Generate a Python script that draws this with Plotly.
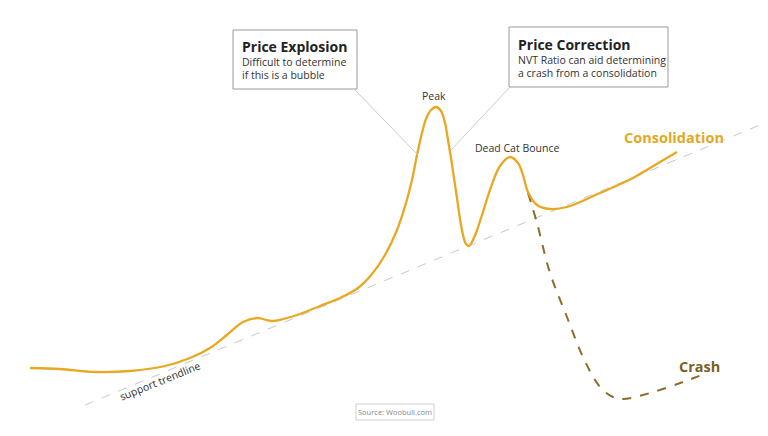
import plotly.graph_objects as go

# Conceptual price path (canvas units: x to the right, y downward)
main_x = [30, 60, 95, 130, 165, 190, 210, 228, 243, 257, 272, 287, 300, 320, 340, 358, 372, 385, 397, 406, 412, 417, 422, 426, 431, 436, 441, 445, 448, 451, 454, 457, 460, 463, 466, 469, 472, 476, 482, 490, 500, 510, 518, 523, 528, 537, 550, 567, 600, 633, 660, 677]
main_y = [368, 369, 372, 371, 366, 358, 348, 334, 322, 318, 321, 318, 314, 306, 298, 288, 274, 255, 230, 203, 180, 155, 133, 119, 110, 107, 111, 123, 140, 158, 178, 198, 219, 235, 244, 246, 242, 233, 215, 190, 166, 157, 163, 175, 192, 205, 209, 207, 193, 178, 162, 152]

crash_x = [528, 537, 550, 567, 583, 600, 613, 623, 650, 683, 707]
crash_y = [193, 223, 273, 317, 357, 387, 397, 399, 393, 382, 373]

trend_x = [85, 760]
trend_y = [405, 125]

fig = go.Figure()
fig.add_trace(go.Scatter(x=trend_x, y=trend_y, mode="lines",
                         line=dict(color="#c8c8c8", width=1, dash="dash"), hoverinfo="skip"))
fig.add_trace(go.Scatter(x=crash_x, y=crash_y, mode="lines",
                         line=dict(color="#8c6c2c", width=2, dash="dash", shape="spline", smoothing=1.0),
                         hoverinfo="skip"))
fig.add_trace(go.Scatter(x=main_x, y=main_y, mode="lines",
                         line=dict(color="#e8a822", width=2.3, shape="spline", smoothing=1.0),
                         hoverinfo="skip"))

shapes = [
    dict(type="line", x0=355, y0=90, x1=418, y1=155, line=dict(color="#cccccc", width=1)),
    dict(type="line", x0=510, y0=87, x1=451, y1=150, line=dict(color="#cccccc", width=1)),
    dict(type="rect", x0=233, y0=30, x1=357, y1=89, line=dict(color="#9a9a9a", width=1), fillcolor="white"),
    dict(type="rect", x0=509, y0=27, x1=668, y1=87, line=dict(color="#9a9a9a", width=1), fillcolor="white"),
    dict(type="rect", x0=356, y0=404, x1=434, y1=420, line=dict(color="#d0d0d0", width=1), fillcolor="white"),
]

F = "Open Sans"
anns = [
    dict(x=240, y=46, text="<b>Price Explosion</b>", font=dict(family=F, size=14, color="#222"), xanchor="left"),
    dict(x=240, y=62, text="Difficult to determine", font=dict(family=F, size=10.5, color="#333"), xanchor="left"),
    dict(x=240, y=75, text="if this is a bubble", font=dict(family=F, size=10.5, color="#333"), xanchor="left"),
    dict(x=516, y=44, text="<b>Price Correction</b>", font=dict(family=F, size=14, color="#222"), xanchor="left"),
    dict(x=516, y=60, text="NVT Ratio can aid determining", font=dict(family=F, size=10.5, color="#333"), xanchor="left"),
    dict(x=516, y=73, text="a crash from a consolidation", font=dict(family=F, size=10.5, color="#333"), xanchor="left"),
    dict(x=434, y=96, text="Peak", font=dict(family=F, size=10.5, color="#333")),
    dict(x=517, y=148, text="Dead Cat Bounce", font=dict(family=F, size=10.5, color="#333")),
    dict(x=674, y=137, text="<b>Consolidation</b>", font=dict(family=F, size=14.5, color="#e5a823")),
    dict(x=699, y=366, text="<b>Crash</b>", font=dict(family=F, size=14.5, color="#7d5f22")),
    dict(x=160, y=381, text="support trendline", textangle=-22, font=dict(family=F, size=10.5, color="#333")),
    dict(x=395, y=412, text="Source: Woobull.com", font=dict(family=F, size=7.5, color="#888")),
]
for a in anns:
    a.update(xref="x", yref="y", showarrow=False, yanchor="middle")
    a.setdefault("xanchor", "center")

fig.update_layout(
    width=768, height=436,
    margin=dict(l=0, r=0, t=0, b=0),
    paper_bgcolor="white", plot_bgcolor="white",
    showlegend=False,
    xaxis=dict(range=[0, 768], visible=False, fixedrange=True),
    yaxis=dict(range=[436, 0], visible=False, fixedrange=True),
    shapes=shapes, annotations=anns,
)
fig.write_html("out.html")
